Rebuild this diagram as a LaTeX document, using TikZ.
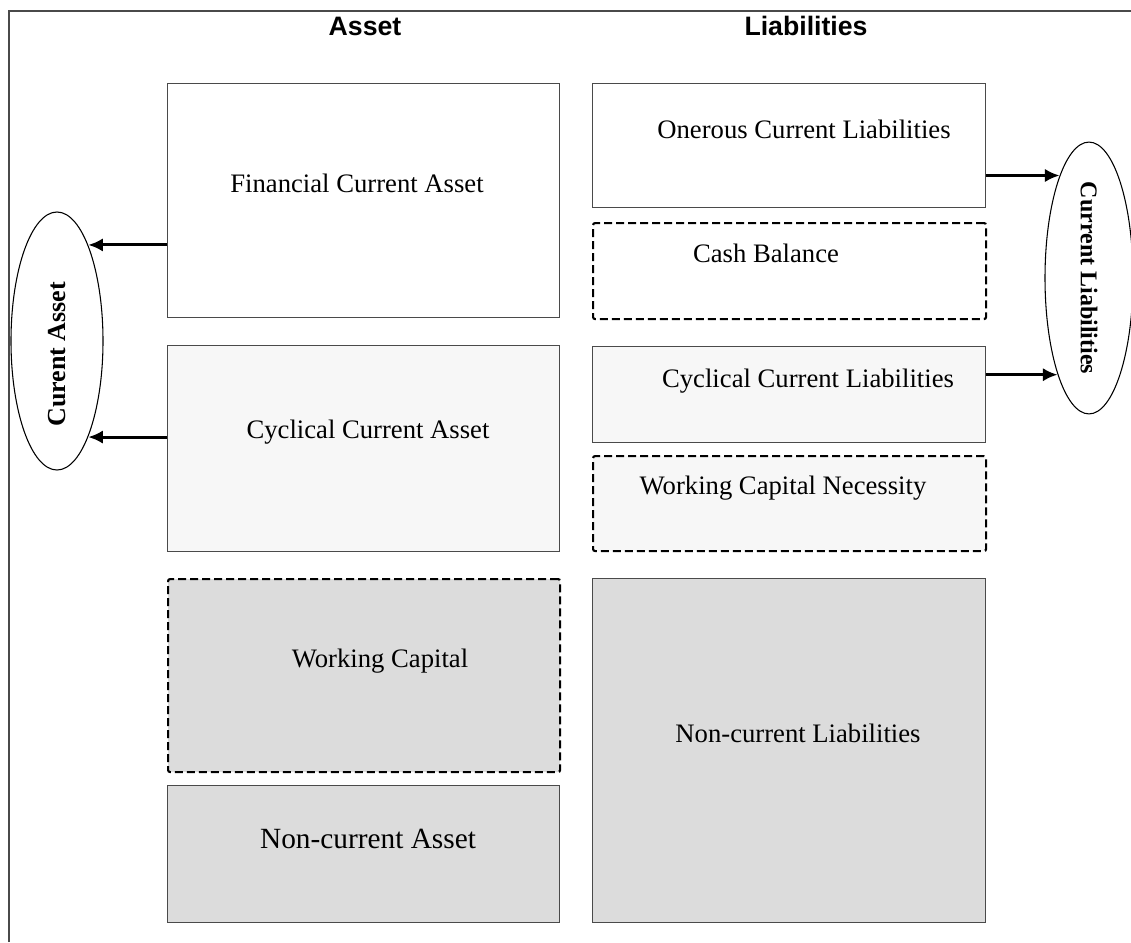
\documentclass[tikz,border=0pt]{standalone}
\usepackage{fontspec}
\setmainfont{Liberation Serif}
\setsansfont{Liberation Sans}
\usetikzlibrary{shapes.geometric, arrows.meta}
\definecolor{paleface}{HTML}{F7F7F7}
\definecolor{greyface}{HTML}{DCDCDC}
\definecolor{edge}{HTML}{4A4A4A}
\tikzstyle{account} = [rectangle, anchor=north west, inner sep=0pt, draw=edge, line width=0.9pt]
\tikzstyle{derived} = [rectangle, anchor=north west, inner sep=0pt, rounded corners=1.5pt, draw=black, line width=1.6pt, dash pattern=on 6pt off 3pt]
\tikzstyle{caption} = [anchor=base, inner sep=0pt, font=\fontsize{20}{24}\selectfont]
\tikzstyle{heading} = [anchor=base, inner sep=0pt, font=\sffamily\bfseries\fontsize{20}{24}\selectfont]
\tikzstyle{category} = [ellipse, inner sep=0pt, draw=black, line width=0.8pt, font=\bfseries\fontsize{18}{20}\selectfont]
\tikzstyle{arrow} = [line width=2.2pt, -{Latex[length=11pt,width=10pt]}]

\begin{document}
\begin{tikzpicture}[x=0.75pt, y=-0.75pt]
        \useasboundingbox (0,0) rectangle (1131,942);
        \draw [edge, line width=1pt] (9,942) -- (9,11) -- (1131,11);
        \node (assethead) [heading] at (365,36) {Asset};
        \node (liabhead) [heading] at (806,36) {Liabilities};
        % asset side
        \node (fca) [account, minimum width=294pt, minimum height=175.5pt] at (167,83) {};
        \node (cca) [account, fill=paleface, minimum width=294pt, minimum height=154.5pt] at (167,345) {};
        \node (wc) [derived, fill=greyface, minimum width=294pt, minimum height=144.75pt] at (167,578) {};
        \node (nca) [account, fill=greyface, minimum width=294pt, minimum height=102.75pt] at (167,785) {};
        % liabilities side
        \node (ocl) [account, minimum width=294.75pt, minimum height=93pt] at (592,83) {};
        \node (cb) [derived, minimum width=294.75pt, minimum height=72pt] at (592,222) {};
        \node (ccl) [account, fill=paleface, minimum width=294.75pt, minimum height=72pt] at (592,346) {};
        \node (wcn) [derived, fill=paleface, minimum width=294.75pt, minimum height=71.25pt] at (592,455) {};
        \node (ncl) [account, fill=greyface, minimum width=294.75pt, minimum height=258pt] at (592,578) {};
        % box texts
        \node (fcatext) [caption] at (357,192) {Financial Current Asset};
        \node (ccatext) [caption] at (368,438) {Cyclical Current Asset};
        \node (wctext) [caption] at (380,667) {Working Capital};
        \node (ncatext) [caption, font=\fontsize{22}{26}\selectfont] at (368,848) {Non-current Asset};
        \node (ocltext) [caption] at (804,138) {Onerous Current Liabilities};
        \node (cbtext) [caption] at (766,262) {Cash Balance};
        \node (ccltext) [caption] at (808,387) {Cyclical Current Liabilities};
        \node (wcntext) [caption] at (783,494) {Working Capital Necessity};
        \node (ncltext) [caption] at (798,742) {Non-current Liabilities};
        % totals
        \node (curasset) [category, font=\bfseries\fontsize{19.5}{22}\selectfont, minimum width=69pt, minimum height=193.5pt] at (57,341) {\rotatebox{90}{Curent Asset\hspace{20pt}}};
        \node (curliab) [category, minimum width=66pt, minimum height=192pt] at (1089,278) {\rotatebox{-90}{Current Liabilities}};
        \draw [arrow] (fca.west |- curasset.72) -- (curasset.72);
        \draw [arrow] (cca.west |- curasset.-72) -- (curasset.-72);
        \draw [arrow] (ocl.east |- curliab.106) -- (curliab.106);
        \draw [arrow] (ccl.east |- curliab.252) -- (curliab.252);
\end{tikzpicture}
\end{document}
